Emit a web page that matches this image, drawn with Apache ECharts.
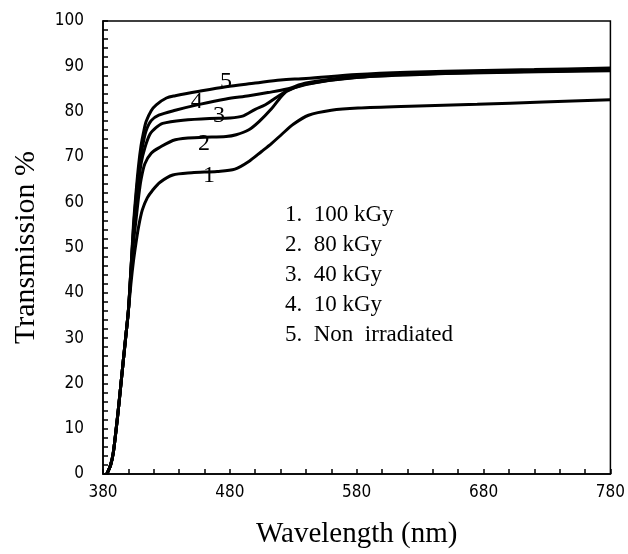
<!DOCTYPE html>
<html><head><meta charset="utf-8">
<script src="https://cdn.jsdelivr.net/npm/echarts@6/dist/echarts.min.js"></script>
<style>html,body{margin:0;padding:0;background:#fff}#c{width:628px;height:554px}</style>
</head><body><div id="c"></div>
<script>
// Wavelength (nm) / Transmission (%) pairs
const curve1 = [[383,0],[386,2],[388,4.5],[390,9],[392,14],[394,19.5],[396,25],[398,30.5],[400,36],[402,42],[404,47],[406,51],[408,54.5],[411,58.3],[415,61],[419,62.6],[425,64.4],[435,66],[450,66.5],[470,66.8],[484,67.3],[495,69],[505,71.2],[513,73],[521,75],[530,77.2],[542,79.2],[560,80.3],[581,80.8],[622,81.2],[675,81.6],[727,82.1],[780,82.6]];
const curve2 = [[383,0],[386,2],[388,4.5],[390,9],[392,14],[394,19.5],[396,25],[398,30.5],[400,36],[402,44],[404,51],[406,56],[408,61],[410,65],[413,68.5],[418,70.8],[424,72],[437,73.8],[456,74.3],[477,74.5],[485,74.9],[495,76],[503,77.8],[513,80.7],[519,82.8],[525,84.5],[540,86],[580,87.5],[620,88.1],[680,88.6],[780,89]];
const curve3 = [[383,0],[386,2],[388,4.5],[390,9],[392,14],[394,19.5],[396,25],[398,30.5],[400,36],[402,45],[404,53],[406,59],[408,64],[410,68.5],[413,72],[417,75],[422,76.5],[427,77.4],[443,78.1],[464,78.5],[480,78.6],[490,79],[500,80.5],[508,81.5],[516,83],[525,84.6],[540,86.1],[580,87.6],[620,88.2],[680,88.7],[780,89.2]];
const curve4 = [[383,0],[386,2],[388,4.5],[390,9],[392,14],[394,19.5],[396,25],[398,30.5],[400,36],[402,45],[404,54],[406,61],[408,66.5],[410,70.5],[412,73.5],[414,75.8],[418,78],[424,79.2],[437,80.3],[456,81.6],[477,82.8],[495,83.5],[510,84.2],[525,85],[540,86.3],[580,87.8],[620,88.4],[680,88.9],[780,89.4]];
const curve5 = [[383,0],[386,2],[388,4.5],[390,9],[392,14],[394,19.5],[396,25],[398,30.5],[400,36],[402,45],[404,55],[406,62],[408,68],[410,72.5],[412,75.5],[414,77.8],[418,80.2],[422,81.5],[430,83],[437,83.5],[456,84.5],[477,85.5],[500,86.3],[520,87],[540,87.3],[580,88.2],[620,88.7],[680,89.1],[720,89.3],[780,89.6]];
const curveNames = ['1','2','3','4','5'];
const curveLabelPos = [[463.6,65.9],[459.7,73],[471.4,79.1],[454,82.2],[477,86.7]];
const legendLines = ['1.  100 kGy','2.  80 kGy','3.  40 kGy','4.  10 kGy','5.  Non  irradiated'];
const xMin = 380, xMax = 780, yMin = 0, yMax = 100;

const curves = [curve1, curve2, curve3, curve4, curve5];
const serif = '"Liberation Serif","Times New Roman",serif';
const narrow = '"DejaVu Sans Condensed","Liberation Sans Narrow","Arial Narrow",sans-serif';

const chart = echarts.init(document.getElementById('c'), null, {renderer:'canvas'});
chart.setOption({
  backgroundColor:'#fff',
  animation:false,
  grid:{left:103,right:13,top:21,bottom:73,show:true,borderColor:'#000',borderWidth:1.5,backgroundColor:'transparent'},
  xAxis:{type:'value',min:xMin,max:xMax,interval:20,
    name:'Wavelength (nm)',nameLocation:'middle',nameGap:46,
    nameTextStyle:{fontFamily:serif,fontSize:29,color:'#000'},
    axisLine:{lineStyle:{color:'#000',width:1.5}},
    axisTick:{inside:true,length:5,lineStyle:{color:'#000',width:1.5}},
    axisLabel:{margin:10,fontFamily:narrow,fontSize:17,color:'#000',
      formatter:v=>((v-xMin)%100===0?String(v):'')},
    splitLine:{show:false}},
  yAxis:{type:'value',min:yMin,max:yMax,interval:2,
    name:'Transmission %',nameLocation:'middle',nameGap:62,nameRotate:90,
    nameTextStyle:{fontFamily:serif,fontSize:30,color:'#000'},
    axisLine:{lineStyle:{color:'#000',width:1.5}},
    axisTick:{inside:true,length:5,lineStyle:{color:'#000',width:1.5}},
    axisLabel:{margin:19,fontFamily:narrow,fontSize:17,color:'#000',
      formatter:v=>(v%10===0?String(v):'')},
    splitLine:{show:false}},
  series: curves.map((d,i)=>({
    type:'line',data:d,smooth:0.3,showSymbol:false,symbol:'none',
    lineStyle:{color:'#000',width:3},z:2,
    markPoint:{symbol:'circle',symbolSize:1,itemStyle:{color:'transparent'},
      label:{show:true,position:'inside',formatter:curveNames[i],fontFamily:serif,fontSize:24,color:'#000'},
      data:[{coord:curveLabelPos[i]}]}
  })),
  graphic:[{type:'text',left:285,top:200,
    style:{text:legendLines.join('\n'),font:'23px '+serif,lineHeight:30,fill:'#000'}}]
});
</script></body></html>
